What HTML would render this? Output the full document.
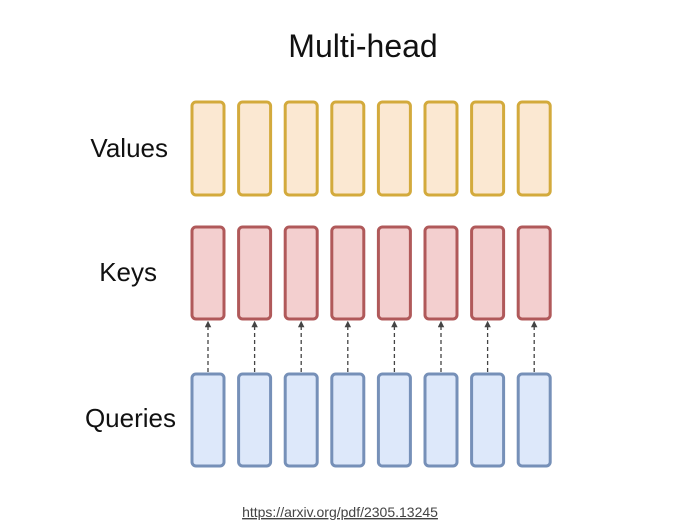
<!DOCTYPE html>
<html><head><style>
body{margin:0;background:#fff;width:680px;height:522px;overflow:hidden;font-family:"Liberation Sans",Arial,sans-serif}
</style></head><body>
<svg width="680" height="522" xmlns="http://www.w3.org/2000/svg" font-family="Liberation Sans, Arial, sans-serif">
<text x="363" y="57" font-size="32" text-anchor="middle" fill="#111">Multi-head</text>
<text x="168" y="157" font-size="26" text-anchor="end" fill="#111">Values</text>
<text x="157" y="281" font-size="26" text-anchor="end" fill="#111">Keys</text>
<text x="176" y="427" font-size="26" text-anchor="end" fill="#111">Queries</text>
<g id="cols"></g>
<text x="340" y="517" font-size="14" text-anchor="middle" fill="#444" text-decoration="underline">https://arxiv.org/pdf/2305.13245</text>
<defs><marker id="a" markerWidth="5" markerHeight="5" refX="2.5" refY="2.5" orient="auto"><path d="M0,0 L5,2.5 L0,5 z" fill="#444"/></marker></defs>
</svg>
<script>
var g=document.getElementById('cols'),s='';
for(var i=0;i<8;i++){var x=192+i*46.6,c=x+16;
s+='<rect x="'+x+'" y="102" width="32" height="93" rx="4" fill="#fbe8d2" stroke="#d3aa3c" stroke-width="3"/>';
s+='<rect x="'+x+'" y="227" width="32" height="92" rx="4" fill="#f3cfcf" stroke="#b0595a" stroke-width="3"/>';
s+='<rect x="'+x+'" y="374" width="32" height="92" rx="4" fill="#dde8fa" stroke="#7690b8" stroke-width="3"/>';
s+='<line x1="'+c+'" y1="372" x2="'+c+'" y2="324" stroke="#444" stroke-width="1.3" stroke-dasharray="4,3" marker-end="url(#a)"/>';}
g.innerHTML=s;
</script>
</body></html>
